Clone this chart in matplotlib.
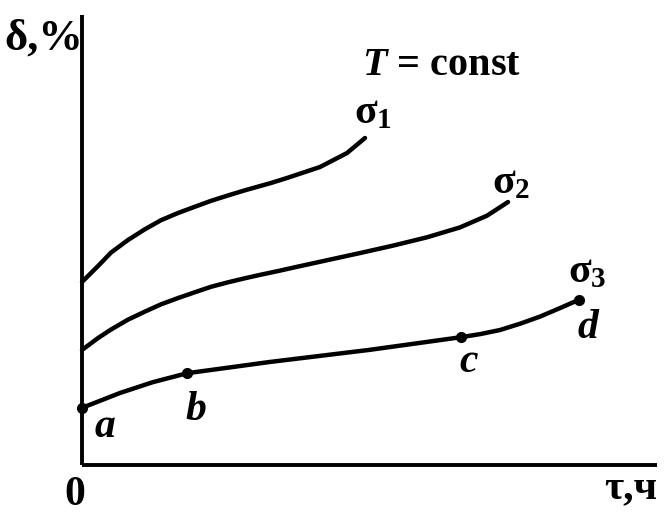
import matplotlib
matplotlib.use("Agg")
import matplotlib.pyplot as plt

plt.rcParams['font.family'] = ['Liberation Serif', 'DejaVu Serif']
plt.rcParams['mathtext.fontset'] = 'custom'
plt.rcParams['mathtext.rm'] = 'Liberation Serif:bold'
plt.rcParams['mathtext.it'] = 'Liberation Serif:italic:bold'
plt.rcParams['mathtext.bf'] = 'Liberation Serif:bold'

# creep curves, time (arb. units) vs strain (arb. units)
t1 = [0, 2.78, 5.04, 8.0, 10.96, 13.74, 16.7, 19.65, 22.43, 25.39, 28.35,
      32.87, 35.65, 41.39, 46.09, 49.22]
d1 = [40.67, 44.2, 47.2, 50.0, 52.4, 54.4, 56.0, 57.4, 58.7, 59.9, 61.05,
      62.67, 63.78, 66.22, 69.33, 72.67]

t2 = [0, 2.78, 5.04, 8.0, 10.96, 13.74, 16.7, 19.65, 22.43, 25.39, 28.35,
      31.13, 34.09, 36.7, 42.61, 48.35, 54.09, 60.0, 65.74, 70.43, 74.09]
d2 = [25.56, 28.2, 30.1, 32.3, 34.1, 35.7, 37.1, 38.4, 39.6, 40.6, 41.5,
      42.3, 43.1, 43.85, 45.5, 47.1, 48.75, 50.6, 52.8, 55.4, 58.44]

t3 = [0, 6.6, 12.3, 18.3, 32.7, 50.1, 65.9, 69.3, 72.7, 76.2, 79.7, 83.0, 86.4]
d3 = [12.7, 16.0, 18.4, 20.4, 22.9, 25.6, 28.4, 29.1, 30.0, 31.4, 33.0, 34.8, 36.7]

# stage points a, b, c, d on the lowest curve
stage_idx = [0, 3, 6, 12]
stage_names = ['a', 'b', 'c', 'd']

W, H = 666, 516


def px(x, y):
    # pixel position of the scan -> figure fraction
    return x / W, 1 - y / H


fig = plt.figure(figsize=(6.66, 5.16), dpi=100)
ax = fig.add_axes([82 / W, 1 - 465 / H, 575 / W, 450 / H])
ax.set_xlim(0, 100)
ax.set_ylim(0, 100)
for s in ['top', 'right']:
    ax.spines[s].set_visible(False)
for s in ['left', 'bottom']:
    ax.spines[s].set_linewidth(2.8)
    ax.spines[s].set_capstyle('butt')
ax.set_xticks([])
ax.set_yticks([])

kw = dict(color='black', lw=3.2, solid_capstyle='round', solid_joinstyle='round', clip_on=False)
ax.plot(t1, d1, **kw)
ax.plot(t2, d2, **kw)
ax.plot(t3, d3, **kw)
ax.plot([t3[i] for i in stage_idx], [d3[i] for i in stage_idx], 'o',
        color='black', ms=7, clip_on=False, zorder=5)

fs = 30
fig.text(*px(4, 50), 'δ,%', fontsize=32, fontweight='bold', ha='left', va='baseline')
fig.text(*px(75, 505), '0', fontsize=fs, fontweight='bold', ha='center', va='baseline')
fig.text(*px(657, 498), 'τ,ч', fontsize=fs, fontweight='bold', ha='right', va='baseline')
fig.text(*px(362, 75), r'$T$ = const', fontsize=29, fontweight='bold', ha='left', va='baseline')

fig.text(*px(354, 123), r'$\mathrm{\sigma_1}$', fontsize=fs, ha='left', va='baseline')
fig.text(*px(492, 193), r'$\mathrm{\sigma_2}$', fontsize=fs, ha='left', va='baseline')
fig.text(*px(568, 282), r'$\mathrm{\sigma_3}$', fontsize=fs, ha='left', va='baseline')

label_pos = [(95, 437), (185, 420), (459, 372), (578, 338)]
for name, (x, y) in zip(stage_names, label_pos):
    fig.text(*px(x, y), name, fontsize=fs, fontweight='bold', style='italic',
             ha='left', va='baseline')

fig.savefig('out.png', dpi=100, facecolor='white')
